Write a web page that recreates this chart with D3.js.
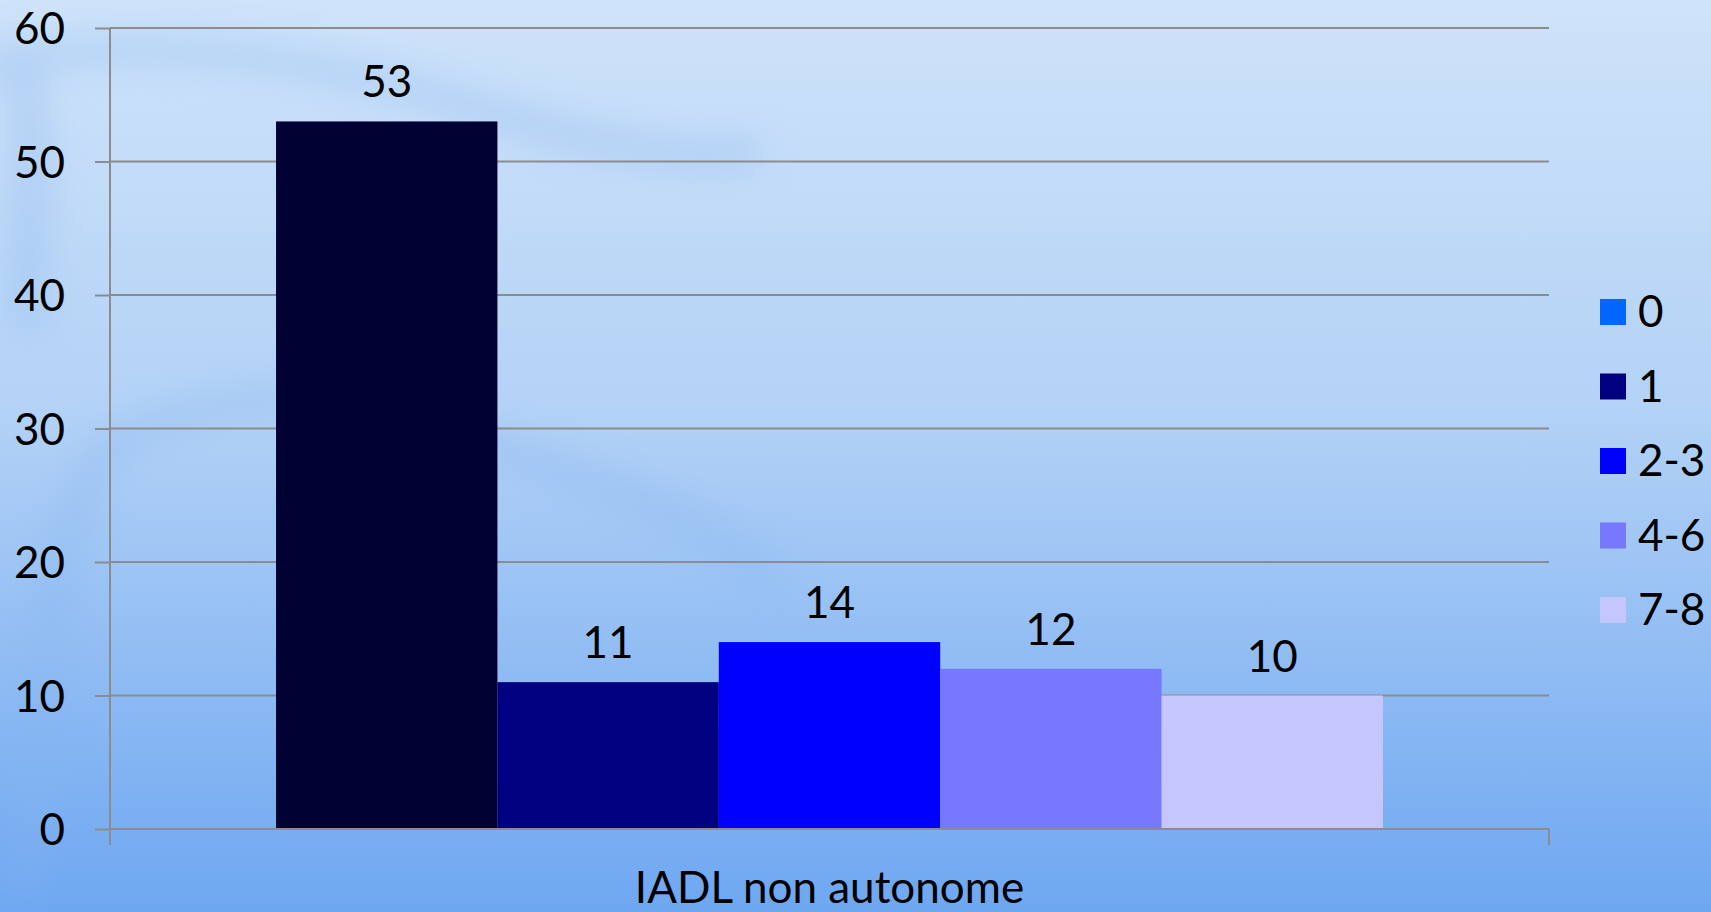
<!DOCTYPE html>
<html>
<head>
<meta charset="utf-8">
<script src="https://cdn.jsdelivr.net/npm/d3@7"></script>
<style>
    html, body { margin: 0; padding: 0; overflow: hidden; }
    svg { display: block; font-family: Lato, "Open Sans", sans-serif; }
</style>
</head>
<body>
<svg id="chart" width="1711" height="912"></svg>
<script>
// data
const category = "IADL non autonome";
const seriesNames = ["0", "1", "2-3", "4-6", "7-8"];
const seriesValues = [53, 11, 14, 12, 10];
const barColors = ["#000033", "#000080", "#0000FF", "#7878FF", "#C6C6FF"];
const legendColors = ["#0066FF", "#000080", "#0000FF", "#7878FF", "#C6C6FF"];
const yTicks = [0, 10, 20, 30, 40, 50, 60];

const W = 1711, H = 912;
const plot = { left: 110, right: 1549, top: 28, bottom: 829 };
const fontSize = 44;
const gridColor = "#8c8c8c";

const svg = d3.select("#chart");

// background gradient + faint tree-ish shapes
const defs = svg.append("defs");
const grad = defs.append("linearGradient")
    .attr("id", "bg").attr("x1", 0).attr("y1", 0).attr("x2", 0).attr("y2", 1);
grad.append("stop").attr("offset", "0%").attr("stop-color", "#cfe3fa");
grad.append("stop").attr("offset", "45%").attr("stop-color", "#b3d2f6");
grad.append("stop").attr("offset", "100%").attr("stop-color", "#6ea7f1");

defs.append("filter").attr("id", "blur")
    .append("feGaussianBlur").attr("stdDeviation", 18);

svg.append("rect").attr("width", W).attr("height", H).attr("fill", "url(#bg)");

const deco = svg.append("g").attr("filter", "url(#blur)").attr("opacity", 0.35);
deco.append("path")
    .attr("d", "M-20,70 C120,30 300,50 520,120 C620,150 700,160 760,150")
    .attr("fill", "none").attr("stroke", "#86b5ee").attr("stroke-width", 30);
deco.append("path")
    .attr("d", "M20,900 C60,700 30,520 120,440 C260,360 420,420 560,470 C660,500 720,540 780,580")
    .attr("fill", "none").attr("stroke", "#86b5ee").attr("stroke-width", 30);
deco.append("path")
    .attr("d", "M30,330 C20,220 50,140 10,40")
    .attr("fill", "none").attr("stroke", "#86b5ee").attr("stroke-width", 36);

// scales
const y = d3.scaleLinear().domain([0, 60]).range([plot.bottom, plot.top]);
const xCat = d3.scaleBand().domain([category]).range([plot.left, plot.right]);
const x = d3.scaleBand().domain(seriesNames)
    .range([xCat(category), xCat(category) + xCat.bandwidth()])
    .paddingInner(0).paddingOuter(0.75);

// gridlines
svg.append("g")
    .selectAll("line").data(yTicks.filter(d => d > 0)).join("line")
    .attr("x1", plot.left).attr("x2", plot.right)
    .attr("y1", d => y(d)).attr("y2", d => y(d))
    .attr("stroke", gridColor).attr("stroke-width", 2);

// bars
svg.append("g")
    .selectAll("rect").data(seriesValues).join("rect")
    .attr("x", (d, i) => x(seriesNames[i]))
    .attr("width", x.bandwidth())
    .attr("y", d => y(d))
    .attr("height", d => y(0) - y(d))
    .attr("fill", (d, i) => barColors[i]);

// y axis
const yAxis = svg.append("g")
    .attr("transform", `translate(${plot.left},0)`)
    .call(d3.axisLeft(y).tickValues(yTicks).tickSize(15).tickPadding(30).tickFormat(d3.format("d")));
yAxis.select(".domain").attr("stroke", gridColor).attr("stroke-width", 2)
    .attr("d", `M0,${plot.top}V${plot.bottom + 16}`);
yAxis.selectAll(".tick line").attr("stroke", gridColor).attr("stroke-width", 2);
yAxis.selectAll(".tick text")
    .attr("font-size", fontSize).attr("fill", "#000")
    .attr("font-family", "Lato, 'Open Sans', sans-serif")
    .attr("dy", "0.36em");

// x axis
const xAxis = svg.append("g")
    .attr("transform", `translate(0,${plot.bottom})`);
xAxis.append("line")
    .attr("x1", plot.left).attr("x2", plot.right)
    .attr("stroke", gridColor).attr("stroke-width", 2);
xAxis.selectAll("line.edge").data([plot.left, plot.right]).join("line")
    .attr("class", "edge")
    .attr("x1", d => d).attr("x2", d => d)
    .attr("y1", 0).attr("y2", 16)
    .attr("stroke", gridColor).attr("stroke-width", 2);
xAxis.append("text")
    .attr("x", xCat(category) + xCat.bandwidth() / 2)
    .attr("y", 74)
    .attr("text-anchor", "middle")
    .attr("font-size", fontSize)
    .text(category);

// value labels
svg.append("g")
    .selectAll("text").data(seriesValues).join("text")
    .attr("x", (d, i) => x(seriesNames[i]) + x.bandwidth() / 2)
    .attr("y", d => y(d) - 24)
    .attr("text-anchor", "middle")
    .attr("font-size", fontSize)
    .text(d => d);

// legend
const legend = svg.append("g").attr("transform", "translate(1600,312)");
const item = legend.selectAll("g").data(seriesNames).join("g")
    .attr("transform", (d, i) => `translate(0,${i * 74.5})`);
item.append("rect")
    .attr("x", 0).attr("y", -13).attr("width", 26).attr("height", 26)
    .attr("fill", (d, i) => legendColors[i]);
item.append("text")
    .attr("x", 38).attr("y", 15)
    .attr("font-size", fontSize)
    .text(d => d);
</script>
</body>
</html>
